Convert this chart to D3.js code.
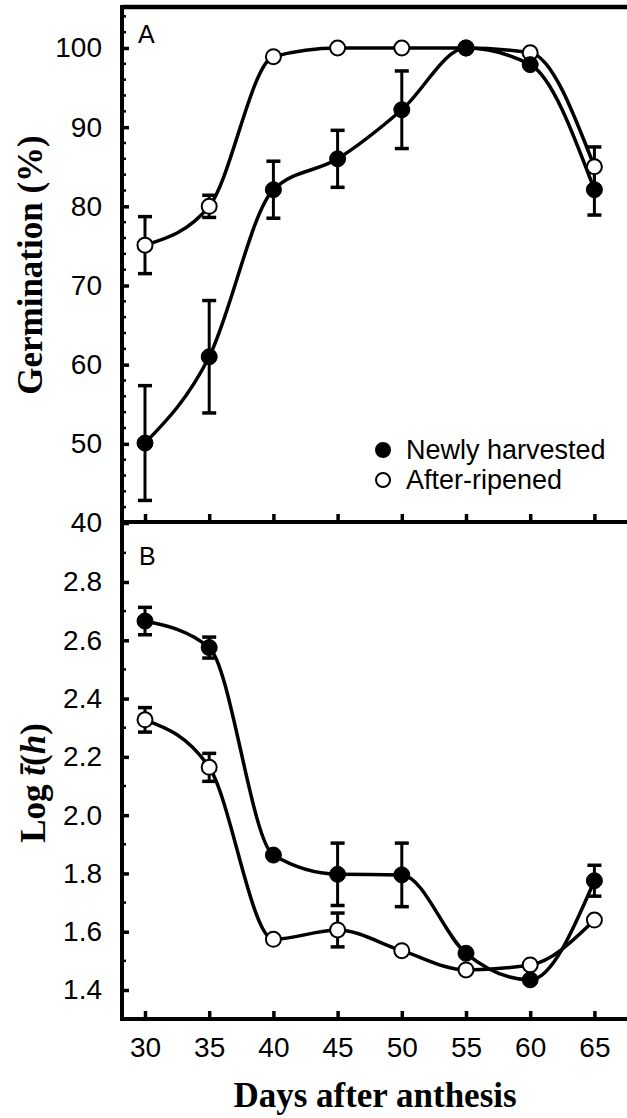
<!DOCTYPE html>
<html>
<head>
<meta charset="utf-8">
<script src="https://cdn.jsdelivr.net/npm/d3@7"></script>
<style>
  html, body { margin: 0; padding: 0; background: #fff; }
  svg { display: block; }
  .tick text { font-family: "Liberation Sans", Arial, sans-serif; font-size: 28px; fill: #000; }
</style>
</head>
<body>
<svg id="chart" width="627" height="1118"></svg>
<script>
// ---- data ----
const days = [30, 35, 40, 45, 50, 55, 60, 65];

const germNew   = [50.1, 61.0, 82.1, 86.0, 92.2, 100.0, 97.9, 82.1];
const germNewErr = [7.25, 7.1, 3.6, 3.6, 4.9, 0, 0, 3.2];
const germAged  = [75.1, 80.0, 98.9, 100.0, 100.0, 100.0, 99.4, 85.0];
const germAgedErr = [3.6, 1.4, 0, 0, 0, 0, 0, 2.5];

const logNew    = [2.666, 2.575, 1.863, 1.797, 1.795, 1.526, 1.435, 1.775];
const logNewErr = [0.047, 0.036, 0, 0.107, 0.109, 0, 0, 0.053];
const logAged   = [2.327, 2.164, 1.574, 1.606, 1.535, 1.469, 1.486, 1.640];
const logAgedErr = [0.042, 0.048, 0, 0.058, 0, 0, 0, 0];

const xTicks = [30, 35, 40, 45, 50, 55, 60, 65];
const yTicksA = [40, 50, 60, 70, 80, 90, 100];
const yTicksB = [1.4, 1.6, 1.8, 2.0, 2.2, 2.4, 2.6, 2.8];

const legendLabels = ["Newly harvested", "After-ripened"];

// ---- layout ----
const svg = d3.select("#chart");
const fLeft = 122, fRight = 627, fTop = 7, fMid = 522, fBottom = 1019;

const x = d3.scaleLinear().domain([30, 65]).range([145, 594.4]);
const yA = d3.scaleLinear().domain([40, 100]).range([523, 48]);
const yB = d3.scaleLinear().domain([1.4, 2.8]).range([990, 582]);

// frame
const frame = svg.append("g").attr("stroke", "#000").attr("stroke-width", 4).attr("fill", "none");
frame.append("line").attr("x1", fLeft).attr("x2", fRight).attr("y1", fTop).attr("y2", fTop).attr("stroke-width", 4.5);
frame.append("line").attr("x1", fLeft).attr("x2", fLeft).attr("y1", fTop - 2).attr("y2", fBottom + 2);
frame.append("line").attr("x1", fLeft).attr("x2", fRight).attr("y1", fMid).attr("y2", fMid);
frame.append("line").attr("x1", fLeft).attr("x2", fRight).attr("y1", fBottom).attr("y2", fBottom);

// minor ticks
const minorA = d3.range(42, 105, 2).filter(v => v % 10 !== 0);
const minorB = d3.range(1.3, 3.0, 0.1).map(v => +v.toFixed(1)).filter(v => Math.round(v * 10) % 2 !== 0);
svg.append("g").selectAll("line").data(minorA).join("line")
  .attr("x1", fLeft).attr("x2", fLeft + 4).attr("y1", d => yA(d)).attr("y2", d => yA(d))
  .attr("stroke", "#000").attr("stroke-width", 2.5);
svg.append("g").selectAll("line").data(minorB).join("line")
  .attr("x1", fLeft).attr("x2", fLeft + 4).attr("y1", d => yB(d)).attr("y2", d => yB(d))
  .attr("stroke", "#000").attr("stroke-width", 2.5);

// y axes
function styleAxis(g) {
  g.select(".domain").remove();
  g.selectAll(".tick line").attr("stroke", "#000").attr("stroke-width", 3.5);
}
svg.append("g").attr("transform", `translate(${fLeft},0)`)
  .call(d3.axisLeft(yA).tickValues(yTicksA).tickSize(-7).tickPadding(20).tickFormat(d3.format("d")))
  .call(styleAxis);
svg.append("g").attr("transform", `translate(${fLeft},0)`)
  .call(d3.axisLeft(yB).tickValues(yTicksB).tickSize(-7).tickPadding(20).tickFormat(d3.format(".1f")))
  .call(styleAxis);

// x axes
svg.append("g").attr("transform", `translate(0,${fBottom})`)
  .call(d3.axisBottom(x).tickValues(xTicks).tickSize(-8).tickPadding(18).tickFormat(d3.format("d")))
  .call(styleAxis);
svg.append("g").attr("transform", `translate(0,${fMid})`)
  .call(d3.axisBottom(x).tickValues(xTicks).tickSize(-8).tickFormat(""))
  .call(styleAxis);

// series drawing
function drawSeries(yScale, vals, errs) {
  const pts = days.map((d, i) => ({ d, v: vals[i], e: errs[i] }));
  const line = d3.line().x(p => x(p.d)).y(p => yScale(p.v)).curve(d3.curveMonotoneX);
  svg.append("path").datum(pts).attr("d", line)
    .attr("fill", "none").attr("stroke", "#000").attr("stroke-width", 3.5);
  const eb = svg.append("g").attr("stroke", "#000").attr("stroke-width", 3).attr("fill", "none");
  pts.filter(p => p.e > 0).forEach(p => {
    const cx = x(p.d), y1 = yScale(p.v - p.e), y2 = yScale(p.v + p.e);
    eb.append("line").attr("x1", cx).attr("x2", cx).attr("y1", y1).attr("y2", y2);
    eb.append("line").attr("x1", cx - 7).attr("x2", cx + 7).attr("y1", y1).attr("y2", y1).attr("stroke-width", 3.5);
    eb.append("line").attr("x1", cx - 7).attr("x2", cx + 7).attr("y1", y2).attr("y2", y2).attr("stroke-width", 3.5);
  });
  return pts;
}
function drawMarkers(yScale, pts, filled) {
  svg.append("g").selectAll("circle").data(pts).join("circle")
    .attr("cx", p => x(p.d)).attr("cy", p => yScale(p.v)).attr("r", filled ? 8 : 7.5)
    .attr("fill", filled ? "#000" : "#fff").attr("stroke", "#000").attr("stroke-width", filled ? 1 : 2);
}
const pAN = drawSeries(yA, germNew, germNewErr);
const pAA = drawSeries(yA, germAged, germAgedErr);
drawMarkers(yA, pAA, false);
drawMarkers(yA, pAN, true);
const pBN = drawSeries(yB, logNew, logNewErr);
const pBA = drawSeries(yB, logAged, logAgedErr);
drawMarkers(yB, pBA, false);
drawMarkers(yB, pBN, true);

// panel labels
const sans = '"Liberation Sans", Arial, sans-serif';
const serif = '"Liberation Serif", "Times New Roman", serif';
svg.append("text").attr("x", 138).attr("y", 43).text("A")
  .attr("font-family", sans).attr("font-size", 25);
svg.append("text").attr("x", 139).attr("y", 565).text("B")
  .attr("font-family", sans).attr("font-size", 25);

// legend
const lg = svg.append("g");
legendLabels.forEach((lab, i) => {
  const cy = 450 + i * 30;
  lg.append("circle").attr("cx", 383).attr("cy", cy).attr("r", 7)
    .attr("fill", i === 0 ? "#000" : "#fff").attr("stroke", "#000").attr("stroke-width", 2);
  lg.append("text").attr("x", 406).attr("y", cy + 9).text(lab)
    .attr("font-family", sans).attr("font-size", 27);
});

// axis titles
svg.append("text").attr("transform", "translate(42,265) rotate(-90)")
  .attr("text-anchor", "middle").attr("font-family", serif).attr("font-weight", "bold")
  .attr("font-size", 35).text("Germination (%)");

const lt = svg.append("text").attr("transform", "translate(45,783) rotate(-90)")
  .attr("text-anchor", "middle").attr("font-family", serif).attr("font-weight", "bold")
  .attr("font-size", 35);
lt.append("tspan").text("Log ");
lt.append("tspan").attr("font-style", "italic").text("t\u0304");
lt.append("tspan").text("(");
lt.append("tspan").attr("font-style", "italic").text("h");
lt.append("tspan").text(")");

svg.append("text").attr("x", 375).attr("y", 1107)
  .attr("text-anchor", "middle").attr("font-family", serif).attr("font-weight", "bold")
  .attr("font-size", 35).text("Days after anthesis");
</script>
</body>
</html>
